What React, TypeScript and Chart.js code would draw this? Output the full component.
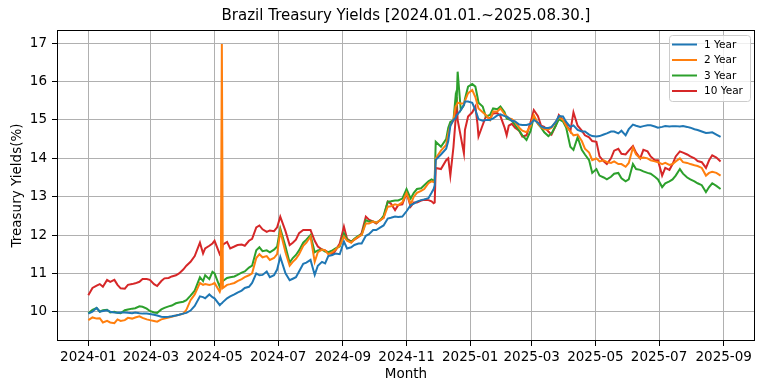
import React, { useEffect, useRef } from 'react';
import { Chart, registerables } from 'chart.js';

Chart.register(...registerables);

const chartTitle = 'Brazil Treasury Yields [2024.01.01.~2025.08.30.]';
const xAxisTitle = 'Month';
const yAxisTitle = 'Treasury Yields(%)';
const seriesNames = ['1 Year', '2 Year', '3 Year', '10 Year'];
const seriesColors = ['#1f77b4', '#ff7f0e', '#2ca02c', '#d62728'];

const dates = [
  '2024-01-01', '2024-01-05', '2024-01-09', '2024-01-12', '2024-01-15', '2024-01-19',
  '2024-01-22', '2024-01-26', '2024-01-29', '2024-02-01', '2024-02-05', '2024-02-08',
  '2024-02-12', '2024-02-15', '2024-02-19', '2024-02-22', '2024-02-26', '2024-02-29',
  '2024-03-04', '2024-03-07', '2024-03-11', '2024-03-14', '2024-03-18', '2024-03-21',
  '2024-03-25', '2024-03-28', '2024-04-01', '2024-04-04', '2024-04-08', '2024-04-12',
  '2024-04-17', '2024-04-20', '2024-04-22', '2024-04-26', '2024-04-29', '2024-05-01',
  '2024-05-06', '2024-05-07', '2024-05-08', '2024-05-09', '2024-05-13', '2024-05-16',
  '2024-05-20', '2024-05-23', '2024-05-27', '2024-05-30', '2024-06-03', '2024-06-06',
  '2024-06-10', '2024-06-13', '2024-06-16', '2024-06-20', '2024-06-23', '2024-06-27',
  '2024-06-30', '2024-07-03', '2024-07-08', '2024-07-12', '2024-07-15', '2024-07-18',
  '2024-07-21', '2024-07-25', '2024-07-28', '2024-08-01', '2024-08-05', '2024-08-08',
  '2024-08-12', '2024-08-15', '2024-08-18', '2024-08-22', '2024-08-25', '2024-08-29',
  '2024-09-02', '2024-09-05', '2024-09-09', '2024-09-12', '2024-09-16', '2024-09-19',
  '2024-09-23', '2024-09-26', '2024-09-30', '2024-10-03', '2024-10-07', '2024-10-10',
  '2024-10-14', '2024-10-17', '2024-10-21', '2024-10-24', '2024-10-28', '2024-11-01',
  '2024-11-05', '2024-11-08', '2024-11-11', '2024-11-15', '2024-11-18', '2024-11-22',
  '2024-11-25', '2024-11-27', '2024-11-28', '2024-11-29', '2024-12-04', '2024-12-09',
  '2024-12-11', '2024-12-13', '2024-12-16', '2024-12-18', '2024-12-19', '2024-12-20',
  '2024-12-23', '2024-12-26', '2024-12-27', '2024-12-30', '2025-01-03', '2025-01-06',
  '2025-01-08', '2025-01-09', '2025-01-13', '2025-01-16', '2025-01-20', '2025-01-23',
  '2025-01-27', '2025-01-30', '2025-02-03', '2025-02-05', '2025-02-07', '2025-02-10',
  '2025-02-13', '2025-02-17', '2025-02-20', '2025-02-24', '2025-02-28', '2025-03-03',
  '2025-03-07', '2025-03-10', '2025-03-13', '2025-03-17', '2025-03-20', '2025-03-24',
  '2025-03-27', '2025-03-31', '2025-04-03', '2025-04-07', '2025-04-10', '2025-04-14',
  '2025-04-18', '2025-04-21', '2025-04-25', '2025-04-28', '2025-05-02', '2025-05-05',
  '2025-05-09', '2025-05-12', '2025-05-16', '2025-05-19', '2025-05-23', '2025-05-26',
  '2025-05-30', '2025-06-02', '2025-06-06', '2025-06-09', '2025-06-13', '2025-06-16',
  '2025-06-20', '2025-06-23', '2025-06-27', '2025-06-30', '2025-07-04', '2025-07-07',
  '2025-07-11', '2025-07-14', '2025-07-17', '2025-07-21', '2025-07-24', '2025-07-28',
  '2025-07-31', '2025-08-04', '2025-08-07', '2025-08-11', '2025-08-15', '2025-08-18',
  '2025-08-21', '2025-08-25', '2025-08-29',
];

const oneYear = [
  9.95, 10.0, 10.1, 10.0, 10.02, 10.04,
  10.0, 9.98, 9.97, 9.98, 9.98, 9.97,
  9.96, 9.98, 9.96, 9.95, 9.95, 9.94,
  9.92, 9.9, 9.87, 9.86, 9.87, 9.88,
  9.9, 9.92, 9.95, 9.97, 10.03, 10.15,
  10.4, 10.38, 10.35, 10.45, 10.38, 10.35,
  10.17, 10.2, 10.22, 10.25, 10.35, 10.4,
  10.45, 10.5, 10.55, 10.62, 10.65, 10.75,
  11.0, 10.95, 10.96, 11.05, 10.9, 10.95,
  11.1, 11.43, 11.0, 10.82, 10.86, 10.9,
  11.05, 11.25, 11.28, 11.35, 10.96, 11.2,
  11.3, 11.26, 11.45, 11.48, 11.52, 11.5,
  11.83, 11.65, 11.68, 11.74, 11.78, 11.78,
  11.98, 12.02, 12.13, 12.13, 12.2, 12.25,
  12.43, 12.45, 12.48, 12.47, 12.48, 12.62,
  12.78, 12.82, 12.87, 12.91, 12.93, 12.96,
  13.1, 13.2, 13.3, 13.96, 14.1, 14.25,
  14.45, 14.85, 15.0, 15.05, 15.13, 15.15,
  15.26, 15.39, 15.48, 15.48, 15.45, 15.26,
  15.1, 15.02, 14.98, 15.0, 15.0, 15.04,
  15.12, 15.15, 15.1, 15.09, 15.05, 14.98,
  14.96, 14.88, 14.87, 14.87, 14.9, 15.0,
  14.93, 14.83, 14.8, 14.79, 14.82, 14.95,
  15.1, 15.09, 14.95, 14.82, 14.86, 14.74,
  14.7, 14.7, 14.62, 14.58, 14.57, 14.58,
  14.62, 14.65, 14.7, 14.7, 14.65, 14.72,
  14.6, 14.76, 14.88, 14.85, 14.82, 14.84,
  14.86, 14.86, 14.83, 14.8, 14.82, 14.84,
  14.83, 14.84, 14.84, 14.83, 14.84, 14.82,
  14.8, 14.76, 14.74, 14.7, 14.66, 14.67,
  14.68, 14.62, 14.56,
];

const twoYear = [
  9.78, 9.85, 9.82, 9.83, 9.72, 9.76,
  9.72, 9.7, 9.8, 9.76, 9.78, 9.84,
  9.82, 9.85, 9.88, 9.84, 9.8, 9.78,
  9.76, 9.74, 9.8, 9.82, 9.85, 9.87,
  9.9, 9.92, 9.95, 10.05, 10.3, 10.45,
  10.75, 10.7, 10.72, 10.7, 10.72, 10.75,
  10.52, 10.6, 16.98, 10.62, 10.7, 10.72,
  10.75, 10.8, 10.85, 10.9, 10.95, 11.0,
  11.4, 11.5, 11.42, 11.45, 11.35, 11.4,
  11.5, 12.1, 11.55, 11.2, 11.3, 11.38,
  11.5, 11.72, 11.8, 11.96, 11.3, 11.55,
  11.62, 11.6, 11.5, 11.55, 11.62, 11.72,
  11.96, 11.85, 11.8, 11.88, 11.96, 12.0,
  12.3, 12.3, 12.35, 12.32, 12.39, 12.45,
  12.74, 12.75, 12.8, 12.78, 12.85, 13.1,
  12.8, 13.0, 13.1, 13.15, 13.2, 13.35,
  13.4, 13.38, 13.42, 14.0, 14.2, 14.35,
  14.65, 14.85, 15.0, 15.35, 15.39, 15.45,
  15.43, 15.43, 15.5, 15.7, 15.78, 15.6,
  15.4, 15.3, 15.2, 15.13, 15.0, 15.22,
  15.22, 15.3, 15.15, 15.09, 15.05, 15.02,
  14.95, 14.8, 14.72, 14.68, 14.85, 15.13,
  14.9, 14.82, 14.76, 14.75, 14.8, 14.95,
  15.08, 15.0, 14.85, 14.7, 14.6, 14.62,
  14.45, 14.25, 14.15, 13.95, 14.0, 13.92,
  13.95, 13.9, 13.88, 13.92, 13.85, 13.85,
  13.78, 13.88, 14.28, 14.1, 14.0, 14.02,
  14.0, 13.95, 13.92, 13.9, 13.85, 13.88,
  13.83, 13.85, 13.92, 14.0, 13.9, 13.88,
  13.85, 13.82, 13.8, 13.75, 13.55, 13.62,
  13.65, 13.62, 13.55,
];

const threeYear = [
  9.96, 10.05, 10.1, 10.0, 10.04, 10.05,
  9.98, 10.0, 9.97, 9.96, 10.04, 10.06,
  10.08, 10.09, 10.14, 10.13, 10.08, 10.02,
  9.98, 9.97, 10.06, 10.1, 10.14, 10.16,
  10.22, 10.24, 10.26, 10.3, 10.42, 10.55,
  10.9, 10.8, 10.95, 10.85, 11.04, 11.0,
  10.65, 10.75, 10.78, 10.8, 10.88, 10.9,
  10.92, 10.96, 11.02, 11.05, 11.15, 11.2,
  11.6, 11.68, 11.58, 11.6, 11.55, 11.62,
  11.7, 12.17, 11.7, 11.28, 11.4, 11.48,
  11.6, 11.8, 11.88, 12.0, 11.55, 11.6,
  11.62, 11.57, 11.55, 11.6, 11.65, 11.7,
  12.04, 11.88, 11.82, 11.9, 11.98, 12.0,
  12.39, 12.35, 12.35, 12.32, 12.39, 12.5,
  12.87, 12.88, 12.9, 12.9, 12.95, 13.2,
  12.95, 13.1, 13.2, 13.22, 13.3, 13.4,
  13.45, 13.42, 13.45, 14.43, 14.3, 14.5,
  14.8, 14.95, 15.0, 15.6, 15.45, 16.26,
  15.26, 15.39, 15.55, 15.87, 15.94, 15.87,
  15.6, 15.45, 15.35, 15.09, 15.13, 15.3,
  15.28, 15.35, 15.2, 15.04, 15.02, 14.98,
  14.87, 14.72, 14.6, 14.48, 14.72, 15.09,
  14.9, 14.8, 14.68, 14.58, 14.65, 14.85,
  15.02, 14.96, 14.8, 14.3, 14.22, 14.55,
  14.22, 14.1, 13.95, 13.62, 13.72, 13.55,
  13.5, 13.45, 13.52, 13.6, 13.62, 13.48,
  13.4, 13.45, 13.85, 13.72, 13.7, 13.66,
  13.62, 13.6, 13.52, 13.45, 13.25, 13.35,
  13.4, 13.45, 13.55, 13.72, 13.6, 13.5,
  13.45, 13.4, 13.35, 13.3, 13.12, 13.25,
  13.35, 13.28, 13.2,
];

const tenYear = [
  10.43, 10.62, 10.68, 10.72, 10.65, 10.83,
  10.78, 10.83, 10.7, 10.61, 10.6, 10.7,
  10.72, 10.74, 10.78, 10.85, 10.85, 10.83,
  10.72, 10.67, 10.8, 10.87, 10.88, 10.92,
  10.95, 11.0, 11.1, 11.2, 11.3, 11.45,
  11.8, 11.52, 11.65, 11.72, 11.78, 11.85,
  11.5, 11.55, 11.62, 11.75, 11.82, 11.65,
  11.7, 11.74, 11.75, 11.72, 11.85, 11.9,
  12.2, 12.25, 12.15, 12.08, 12.12, 12.1,
  12.2, 12.48, 12.1, 11.74, 11.8, 11.88,
  12.05, 12.13, 12.13, 12.13, 11.85, 11.7,
  11.62, 11.6, 11.55, 11.5, 11.6, 11.78,
  12.22, 11.9, 11.83, 11.88, 11.95, 12.05,
  12.48, 12.4, 12.35, 12.3, 12.4, 12.45,
  12.87, 12.82, 12.65, 12.78, 12.8, 13.1,
  12.74, 12.85, 12.85, 12.9, 12.92, 12.91,
  12.88, 12.83, 12.85, 13.75, 13.72, 13.95,
  14.0, 13.55, 14.3, 15.0, 15.6, 15.0,
  14.57, 14.13, 14.74, 15.09, 15.2, 15.35,
  14.9, 14.57, 14.87, 15.09, 15.04, 15.17,
  15.18, 15.1, 14.8, 14.6, 14.85, 14.9,
  14.8, 14.72, 14.57, 14.6, 14.95, 15.26,
  15.1, 14.85, 14.82, 14.7, 14.62, 14.85,
  15.13, 15.0, 14.88, 14.7, 15.2, 14.85,
  14.72, 14.6, 14.55, 14.45, 14.43, 14.05,
  13.92, 13.85, 14.0, 14.2, 14.25, 14.12,
  14.1, 14.2, 14.32, 14.15, 14.0, 14.22,
  14.18, 14.05, 13.95, 13.95, 13.55, 13.75,
  13.7, 13.85, 14.05, 14.18, 14.15, 14.1,
  14.05, 14.0, 13.93, 13.9, 13.75, 13.95,
  14.08, 14.02, 13.92,
];

const xTickDates = [
  '2024-01-01', '2024-03-01', '2024-05-01', '2024-07-01', '2024-09-01', '2024-11-01',
  '2025-01-01', '2025-03-01', '2025-05-01', '2025-07-01', '2025-09-01',
];
const xTickLabels = [
  '2024-01', '2024-03', '2024-05', '2024-07', '2024-09', '2024-11',
  '2025-01', '2025-03', '2025-05', '2025-07', '2025-09',
];
const yTicks = [10, 11, 12, 13, 14, 15, 16, 17];

const ORIGIN = Date.parse('2024-01-01');
const dayOf = (s: string) => Math.round((Date.parse(s) - ORIGIN) / 86400000);

const FONT = '"DejaVu Sans", "Liberation Sans", sans-serif';

const framePlugin = {
  id: 'mplFrame',
  afterDatasetsDraw(chart: any) {
    const { ctx, chartArea } = chart;
    const { left, right, top, bottom } = chartArea;
    ctx.save();
    ctx.strokeStyle = '#000';
    ctx.lineWidth = 1;
    ctx.strokeRect(Math.round(left) + 0.5, Math.round(top) + 0.5,
      Math.round(right) - Math.round(left) - 1, Math.round(bottom) - Math.round(top) - 1);
    ctx.restore();
  },
};

const legendPlugin = {
  id: 'mplLegend',
  afterDraw(chart: any) {
    const { ctx, chartArea } = chart;
    const boxW = 81;
    const boxH = 66;
    const x0 = Math.round(chartArea.right - 5.5 - boxW);
    const y0 = Math.round(chartArea.top + 5);
    ctx.save();
    ctx.beginPath();
    if ((ctx as any).roundRect) {
      (ctx as any).roundRect(x0 + 0.5, y0 + 0.5, boxW, boxH, 3);
    } else {
      ctx.rect(x0 + 0.5, y0 + 0.5, boxW, boxH);
    }
    ctx.fillStyle = 'rgba(255,255,255,0.8)';
    ctx.fill();
    ctx.strokeStyle = '#cccccc';
    ctx.lineWidth = 1;
    ctx.stroke();
    ctx.font = `10.5px ${FONT}`;
    ctx.textBaseline = 'middle';
    ctx.textAlign = 'left';
    chart.data.datasets.forEach((ds: any, i: number) => {
      const cy = y0 + 9.5 + i * 15.5;
      ctx.strokeStyle = ds.borderColor;
      ctx.lineWidth = 2;
      ctx.beginPath();
      ctx.moveTo(x0 + 3, cy);
      ctx.lineTo(x0 + 28, cy);
      ctx.stroke();
      ctx.fillStyle = '#000';
      ctx.fillText(ds.label, x0 + 35, cy + 0.5);
    });
    ctx.restore();
  },
};

export default function App() {
  const canvasRef = useRef<HTMLCanvasElement | null>(null);

  useEffect(() => {
    document.body.style.margin = '0';
    const canvas = canvasRef.current;
    if (!canvas) return;
    const seriesValues = [oneYear, twoYear, threeYear, tenYear];
    const xs = dates.map(dayOf);
    const tickDays = xTickDates.map(dayOf);

    const chart = new Chart(canvas, {
      type: 'line',
      data: {
        datasets: seriesValues.map((vals, i) => ({
          label: seriesNames[i],
          data: vals.map((v, j) => ({ x: xs[j], y: v })),
          borderColor: seriesColors[i],
          backgroundColor: seriesColors[i],
          borderWidth: 2,
          pointRadius: 0,
          pointHoverRadius: 0,
          tension: 0,
          fill: false,
        })),
      },
      options: {
        responsive: false,
        animation: false,
        devicePixelRatio: 1,
        events: [],
        layout: { padding: { left: 0, right: 9, top: 0, bottom: 0 } },
        plugins: {
          legend: { display: false },
          tooltip: { enabled: false },
          title: {
            display: true,
            text: chartTitle,
            fullSize: false,
            color: '#000',
            font: { family: FONT, size: 15, weight: 'normal', lineHeight: 1.2 },
            padding: { top: 7, bottom: 5 },
          },
        },
        scales: {
          x: {
            type: 'linear',
            min: -30,
            max: 639,
            afterBuildTicks: (scale: any) => {
              scale.ticks = tickDays.map((v) => ({ value: v }));
            },
            afterFit: (scale: any) => {
              scale.height = 50;
            },
            ticks: {
              autoSkip: false,
              maxRotation: 0,
              minRotation: 0,
              color: '#000',
              padding: 3,
              font: { family: FONT, size: 13.5 },
              callback: (_v: any, index: number) => xTickLabels[index],
            },
            grid: {
              color: '#b0b0b0',
              lineWidth: 1,
              drawTicks: true,
              tickLength: 5,
              tickColor: '#000',
              tickWidth: 1,
            },
            border: { display: false },
            title: {
              display: true,
              text: xAxisTitle,
              color: '#000',
              font: { family: FONT, size: 13.5 },
              padding: { top: 0, bottom: 8 },
            },
          },
          y: {
            type: 'linear',
            min: 9.236,
            max: 17.347,
            afterBuildTicks: (scale: any) => {
              scale.ticks = yTicks.map((v) => ({ value: v }));
            },
            afterFit: (scale: any) => {
              scale.width = 57;
            },
            ticks: {
              color: '#000',
              padding: 5,
              font: { family: FONT, size: 13.5 },
              callback: (v: any) => String(v),
            },
            grid: {
              color: '#b0b0b0',
              lineWidth: 1,
              drawTicks: true,
              tickLength: 5,
              tickColor: '#000',
              tickWidth: 1,
            },
            border: { display: false },
            title: {
              display: true,
              text: yAxisTitle,
              color: '#000',
              font: { family: FONT, size: 13.5 },
              padding: { top: 9, bottom: 0 },
            },
          },
        },
      },
      plugins: [framePlugin, legendPlugin],
    } as any);

    return () => {
      chart.destroy();
    };
  }, []);

  return (
    <div style={{ width: 764, height: 391 }}>
      <canvas ref={canvasRef} width={764} height={391} style={{ display: 'block' }} />
    </div>
  );
}
